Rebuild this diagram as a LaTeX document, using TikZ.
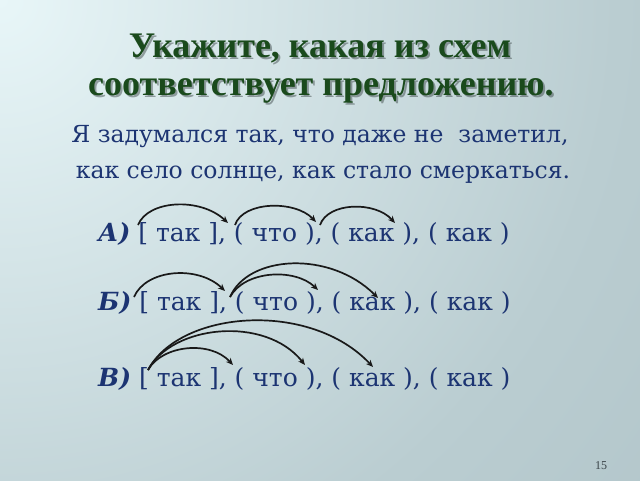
\documentclass[tikz,border=0pt]{standalone}
\usepackage{fontspec}
\setmainfont{DejaVu Serif}
\newfontfamily\titlefont{Liberation Serif}
\usetikzlibrary{arrows.meta}
\definecolor{txt}{HTML}{1C3472}
\definecolor{ttl}{HTML}{1A4A1C}
\definecolor{shd}{HTML}{1E2828}
\definecolor{bgA}{HTML}{E8F6F8}
\definecolor{bgB}{HTML}{BACDD1}
\definecolor{bgC}{HTML}{9DB1B7}
\definecolor{pnum}{HTML}{3A4448}
\pgfdeclareradialshading{bgshade}{\pgfpoint{0bp}{0bp}}{color(0bp)=(bgA); color(11bp)=(bgB); color(28bp)=(bgC); color(50bp)=(bgC)}
\tikzset{
  titletext/.style={font=\titlefont\bfseries\fontsize{36}{40}\selectfont, text=ttl, inner sep=0pt, anchor=base},
  titleshadow/.style={font=\titlefont\bfseries\fontsize{36}{40}\selectfont, text=shd, inner sep=0pt, anchor=base, opacity=0.4},
  sentence/.style={font=\fontsize{23.5}{28}\selectfont, text=txt, inner sep=0pt, anchor=base},
  rowtext/.style={font=\fontsize{25}{28}\selectfont, text=txt, inner sep=0pt, anchor=base west},
  link/.style={line width=1.7pt, -{Stealth[length=7pt,width=6pt,inset=2pt]}, black!90},
  pagenum/.style={font=\titlefont\fontsize{12}{14}\selectfont, text=pnum, inner sep=0pt, anchor=base}
}
\begin{document}
\begin{tikzpicture}[x=1pt,y=-1pt]
\useasboundingbox (0,0) rectangle (640,480);
\begin{scope}
  \clip (0,0) rectangle (640,480);
  \shade[shading=bgshade] (0,0) circle (1400pt);
\end{scope}
% title with shadow
\node[titleshadow] (t1s) at (322,59.5) {Укажите, какая из схем};
\node[titleshadow] (t2s) at (323,97.5) {соответствует предложению.};
\node[titletext] (t1) at (320,57) {Укажите, какая из схем};
\node[titletext] (t2) at (321,95) {соответствует предложению.};
% sentence
\node[sentence] (s1) at (320,142) {Я задумался так, что даже не~ заметил,};
\node[sentence] (s2) at (323,178) {как село солнце, как стало смеркаться.};
% rows
\node[rowtext] (ra) at (98,241) {\textbf{\textit{А)}} [ так ], ( что ), ( как ), ( как )};
\node[rowtext] (rb) at (98,310) {\textbf{\textit{Б)}} [ так ], ( что ), ( как ), ( как )};
\node[rowtext] (rc) at (98,386) {\textbf{\textit{В)}} [ так ], ( что ), ( как ), ( как )};
% arrow end points
\coordinate (a1s) at (138,225); \coordinate (a1e) at (228,223);
\coordinate (a2s) at (235,225); \coordinate (a2e) at (316,222);
\coordinate (a3s) at (320,225); \coordinate (a3e) at (395,223);
\coordinate (b1s) at (134,297); \coordinate (b1e) at (225,291);
\coordinate (b2s) at (230,297); \coordinate (b2e) at (318,290);
\coordinate (b3e) at (378,298);
\coordinate (c0s) at (148,370);
\coordinate (c1e) at (233,365); \coordinate (c2e) at (305,365); \coordinate (c3e) at (373,367);
% A
\draw[link] (a1s) .. controls (148,200) and (200,197) .. (a1e);
\draw[link] (a2s) .. controls (243,201) and (295,200) .. (a2e);
\draw[link] (a3s) .. controls (328,202) and (375,201) .. (a3e);
% Б
\draw[link] (b1s) .. controls (146,269) and (198,265) .. (b1e);
\draw[link] (b2s) .. controls (245,270) and (295,268) .. (b2e);
\draw[link] (b2s) .. controls (248,255) and (330,250) .. (b3e);
% В
\draw[link] (c0s) .. controls (162,345) and (210,340) .. (c1e);
\draw[link] (c0s) .. controls (172,325) and (265,315) .. (c2e);
\draw[link] (c0s) .. controls (180,310) and (310,300) .. (c3e);
% page number
\node[pagenum] (pn) at (601,469) {15};
\end{tikzpicture}
\end{document}
